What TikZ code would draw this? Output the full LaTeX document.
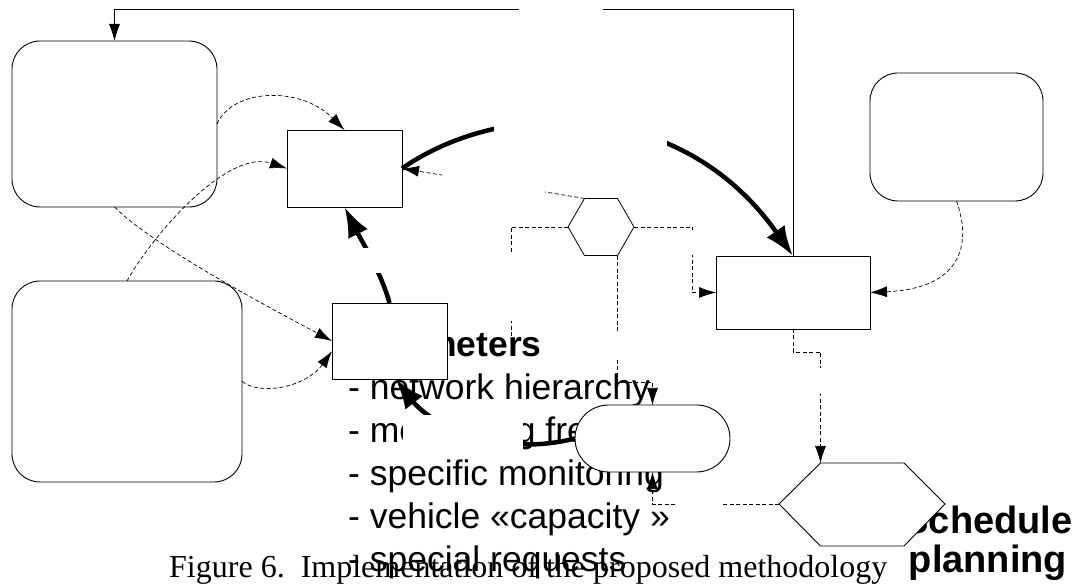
\documentclass[tikz,border=0pt]{standalone}
\usepackage{fontspec}
\setmainfont{Liberation Serif}
\newfontfamily\sansf{Liberation Sans}
\usetikzlibrary{arrows.meta,shapes.geometric}

\begin{document}
\begin{tikzpicture}[x=1pt,y=-1pt,
  box/.style={draw, fill=white, line width=0.9pt, inner sep=0pt, outer sep=0pt},
  rbox/.style={box, rounded corners=#1},
  link/.style={dash pattern=on 4pt off 2.5pt, line width=0.7pt},
  thin tip/.style={-{Latex[length=17pt,width=11pt]}},
  flow/.style={line width=4.5pt, -{Latex[length=30pt,width=22pt]}},
  blank/.style={fill=white},
]
\useasboundingbox[fill=white] (0,0) rectangle (1080,585);

% list of parameters (partly covered by the boxes drawn afterwards)
\node[anchor=base west, inner sep=0pt, font=\sansf\fontsize{35.5}{43}\selectfont] (par) at (348,357)
  {\begin{tabular}[t]{@{}l@{}}\textbf{Parameters}\\- network hierarchy\\- monitoring frequency\\- specific monitoring\\- vehicle «capacity »\\- special requests\end{tabular}};
\node[anchor=base, inner sep=0pt, font=\sansf\bfseries\fontsize{38}{39}\selectfont] (sched) at (988,533)
  {\begin{tabular}[t]{@{}c@{}}Schedule\\planning\end{tabular}};

% boxes
\node[rbox=28pt, minimum width=205pt, minimum height=166pt] (A) at (114.5,124) {};
\node[box, minimum width=115pt, minimum height=77pt] (B) at (344.5,168.5) {};
\node[rbox=28pt, minimum width=230pt, minimum height=201pt] (C) at (127,381.5) {};
\node[box, minimum width=115pt, minimum height=76pt] (D) at (389.5,341) {};
\node[rbox=33.5pt, minimum width=155pt, minimum height=67pt] (E) at (652.5,438.5) {};
\node[box, minimum width=154pt, minimum height=73pt] (F) at (793,292.5) {};
\node[rbox=28pt, minimum width=173pt, minimum height=128pt] (G) at (956.5,137) {};
\node[box, regular polygon, regular polygon sides=6, minimum size=66pt, line width=0.8pt] (H1) at (601,227) {};

% large hexagon
\coordinate (H2l) at (779,504);
\coordinate (H2tl) at (820.5,463);
\coordinate (H2tr) at (904,463);
\coordinate (H2r) at (945,504);
\coordinate (H2br) at (904,546);
\coordinate (H2bl) at (820.5,546);
\draw[box] (H2l) -- (H2tl) -- (H2tr) -- (H2r) -- (H2br) -- (H2bl) -- cycle;

% auxiliary bends
\coordinate (top) at (793,9);
\coordinate (k1) at (692,227);
\coordinate (dnend) at (511,340);

% feedback line along the top
\draw[thin tip, line width=0.8pt] (F.north) -- (top) -| (A.north);

% dashed links
\draw[link, thin tip] (A.east) .. controls +(15,-35) and +(-45,-45) .. (B.north);
\draw[link, thin tip] (A.south) .. controls +(40,40) and +(-60,-32) .. (D.west);
\draw[link, thin tip] (C.north) .. controls +(25,-45) and +(-60,-20) .. (B.west);
\draw[link, thin tip] (C.east) .. controls +(20,15) and +(-25,35) .. (D.190);
\draw[link, thin tip] (H1.corner 2) -- (B.east);
\draw[link] (H1.corner 3) -| (dnend);
\draw[link, thin tip] (H1.corner 6) -- (k1) |- (F.west);
\draw[link, thin tip] (H1.corner 5) |- ([yshift=23pt]E.north) -- (E.north);
\draw[link, thin tip] (H2l) -| (E.south);
\draw[link, thin tip] (F.south) |- ([yshift=111pt]H2tl) -- (H2tl);
\draw[link, thin tip] (G.south) .. controls +(16,45) and +(90,-4) .. (F.east);

% main flow
\draw[flow] (B.east) .. controls +(98,-68.5) and +(-113,-161) .. (F.north);
\draw[flow] (D.north) .. controls +(-8,-30) and +(15,30) .. (B.south);
\draw[flow] (E.west) .. controls +(-80,20) and +(35,45) .. ([xshift=6pt]D.south);

% blank label areas
\fill[blank] (519,1) rectangle (603,18);
\fill[blank] (494,60) rectangle (667,160);
\fill[blank] (442,171) rectangle (545,197);
\fill[blank] (355,248) rectangle (400,273);
\fill[blank] (403,415) rectangle (523,458);
\fill[blank] (503,253) rectangle (519,321);
\fill[blank] (684,230) rectangle (700,255);
\fill[blank] (610,333) rectangle (626,359);
\fill[blank] (677,496) rectangle (721,512);
\fill[blank] (813,368) rectangle (829,394);

% caption
\node[anchor=base west, inner sep=0pt, font=\fontsize{32}{38}\selectfont] (cap) at (169,577)
  {Figure 6.\ \ Implementation of the proposed methodology};
\end{tikzpicture}
\end{document}
